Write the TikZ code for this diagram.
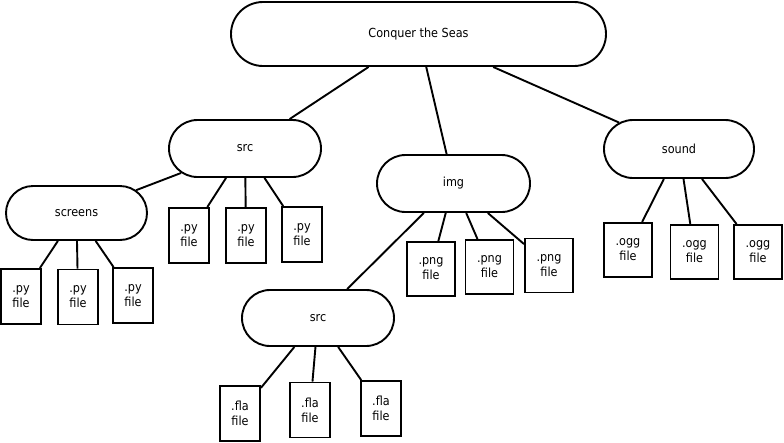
\documentclass[tikz,border=0pt]{standalone}
\usepackage{fontspec}
\setmainfont{DejaVu Sans Condensed}
\usepackage{tikz}
\usetikzlibrary{shapes.misc}

\begin{document}
\begin{tikzpicture}[x=1pt,y=-1pt,line width=1.9pt,
  font=\fontsize{12.5}{15}\selectfont,
  pill/.style={rounded rectangle,draw=black,inner sep=0pt},
  filebox/.style={rectangle,draw=black,inner sep=0pt,align=center,minimum width=40pt,minimum height=55pt},
  widebox/.style={filebox,minimum width=48pt,minimum height=54pt}]
\useasboundingbox (0,0) rectangle (784,442);
\node[pill,minimum width=375pt,minimum height=64pt] (root) at (418.5,34) {Conquer the Seas};
\node[pill,minimum width=152pt,minimum height=57pt] (src) at (245,148.5) {src};
\node[pill,minimum width=141pt,minimum height=54pt] (screens) at (76.5,213) {screens};
\node[pill,minimum width=153pt,minimum height=57pt] (img) at (453.5,183.5) {img};
\node[pill,minimum width=152pt,minimum height=56pt] (srcfla) at (318,318) {src};
\node[pill,minimum width=150pt,minimum height=58pt] (sound) at (679,149) {sound};
% files under screens
\node[filebox] (scr1) at (21,296.5) {.py\\file};
\node[filebox] (scr2) at (78,297) {.py\\file};
\node[filebox] (scr3) at (133,295.5) {.py\\file};
% files under src
\node[filebox] (py1) at (189,235.5) {.py\\file};
\node[filebox] (py2) at (246,235.5) {.py\\file};
\node[filebox] (py3) at (302,234.5) {.py\\file};
% files under img
\node[widebox] (png1) at (431,269) {.png\\file};
\node[widebox] (png2) at (489.5,267) {.png\\file};
\node[widebox] (png3) at (549,265.5) {.png\\file};
% files under the second src
\node[filebox] (fla1) at (240,413.5) {.fla\\file};
\node[filebox] (fla2) at (310,410) {.fla\\file};
\node[filebox] (fla3) at (381,408.5) {.fla\\file};
% files under sound
\node[widebox] (ogg1) at (628,250) {.ogg\\file};
\node[widebox] (ogg2) at (694.5,252) {.ogg\\file};
\node[widebox] (ogg3) at (758,252) {.ogg\\file};
% connectors
\draw (root) -- (src);
\draw (root) -- (img);
\draw (root) -- (sound);
\draw (src) -- (screens);
\draw (img) -- (srcfla);
\foreach \f in {scr1,scr2,scr3} \draw (screens) -- (\f);
\foreach \f in {py1,py2,py3} \draw (src) -- (\f);
\foreach \f in {png1,png2,png3} \draw (img) -- (\f);
\foreach \f in {fla1,fla2,fla3} \draw (srcfla) -- (\f);
\foreach \f in {ogg1,ogg2,ogg3} \draw (sound) -- (\f);
\end{tikzpicture}
\end{document}
